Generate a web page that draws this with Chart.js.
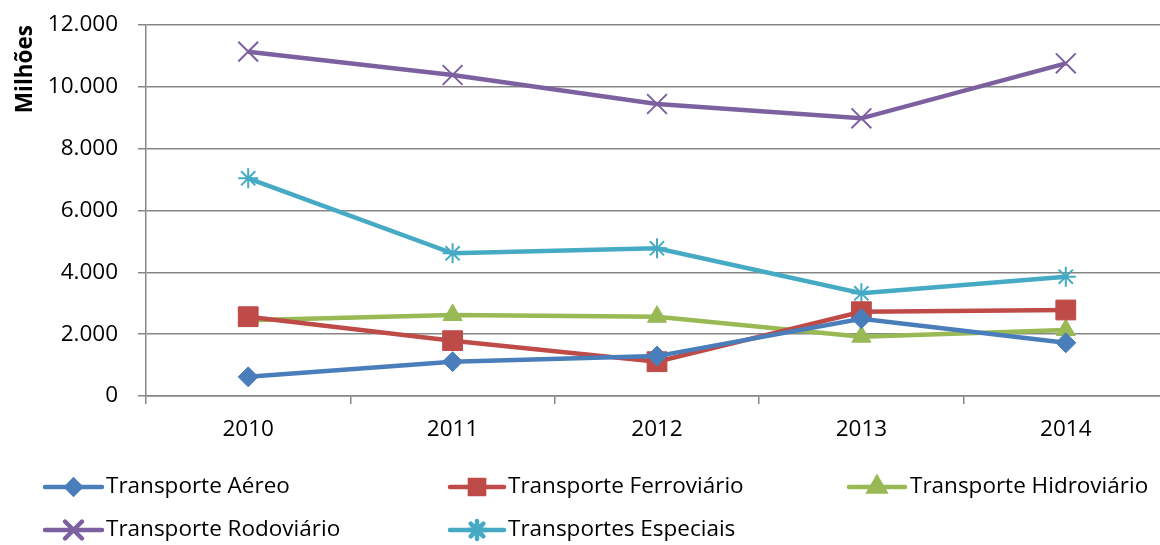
<!DOCTYPE html>
<html><head><meta charset="utf-8">
<script src="https://cdn.jsdelivr.net/npm/chart.js@4/dist/chart.umd.min.js"></script>
<style>
html,body{margin:0;padding:0;background:#fff;overflow:hidden}
#wrap{width:1160px;height:545px;overflow:hidden;position:relative}
canvas{display:block}
</style></head>
<body><div id="wrap"><canvas id="c" width="1184" height="545" style="width:1184px;height:545px"></canvas></div>
<script>
const categories = ['2010','2011','2012','2013','2014'];
const seriesNames = ['Transporte Aéreo','Transporte Ferroviário','Transporte Hidroviário','Transporte Rodoviário','Transportes Especiais'];
const aereo       = [620, 1110, 1290, 2500, 1720];
const ferroviario = [2565, 1790, 1110, 2727, 2782];
const hidroviario = [2450, 2620, 2565, 1918, 2135];
const rodoviario  = [11137, 10383, 9445, 8982, 10761];
const especiais   = [7041, 4615, 4777, 3322, 3859];
const yTicks = [0, 2000, 4000, 6000, 8000, 10000, 12000];
const yTitle = 'Milhões';

const FONT = "'Open Sans', 'Noto Sans', sans-serif";
const FS = 22.5;
const grey = '#868686';
const colors = ['#4A7EBB','#BE4B48','#98B954','#7D60A0','#46AAC5'];
const styles = [
  {pointStyle:'rectRot', r:10, bw:1, lr:7},
  {pointStyle:'rect', r:14, bw:1, lr:10},
  {pointStyle:'triangle', r:11, bw:1, lr:9},
  {pointStyle:'crossRot', r:14, bw:2, lr:12},
  {pointStyle:'star', r:10, bw:2, lr:9}
];
const values = [aereo, ferroviario, hidroviario, rodoviario, especiais];

function fmt(v){ return String(v).replace(/\B(?=(\d{3})+(?!\d))/g,'.'); }

const datasets = values.map((d,i)=>({
  label: seriesNames[i],
  data: d,
  borderColor: colors[i],
  backgroundColor: colors[i],
  borderWidth: 4.5,
  pointStyle: styles[i].pointStyle,
  pointRadius: styles[i].r,
  pointHoverRadius: styles[i].r,
  pointBorderWidth: styles[i].bw,
  pointBackgroundColor: colors[i],
  pointBorderColor: colors[i],
  tension: 0,
  fill: false
}));

const legendPos = [
  {lx1:45, lx2:102, tx:106, y:487},
  {lx1:450, lx2:504, tx:508, y:487},
  {lx1:849, lx2:905, tx:910, y:487},
  {lx1:45, lx2:102, tx:106, y:530},
  {lx1:450, lx2:504, tx:508, y:530}
];

const legendPlugin = {
  id:'excelLegend',
  afterDraw(chart){
    const ctx = chart.ctx;
    ctx.save();
    chart.data.datasets.forEach((ds,i)=>{
      const p = legendPos[i];
      ctx.strokeStyle = ds.borderColor;
      ctx.lineWidth = 4.5;
      ctx.lineCap = 'round';
      ctx.beginPath(); ctx.moveTo(p.lx1,p.y); ctx.lineTo(p.lx2,p.y); ctx.stroke();
      Chart.helpers.drawPoint(ctx, {
        pointStyle: ds.pointStyle, radius: styles[i].lr, borderWidth: styles[i].bw, rotation:0
      }, (p.lx1+p.lx2)/2, p.y);
      ctx.fillStyle = ds.borderColor;
      ctx.lineWidth = styles[i].bw;
      ctx.fill(); ctx.stroke();
      ctx.fillStyle = '#000';
      ctx.font = FS + 'px ' + FONT;
      ctx.textBaseline = 'middle';
      ctx.textAlign = 'left';
      ctx.fillText(ds.label, p.tx, p.y);
    });
    ctx.restore();
  }
};

new Chart(document.getElementById('c'), {
  type:'line',
  data:{labels:categories, datasets},
  options:{
    responsive:false,
    animation:false,
    events:[],
    layout:{padding:{left:0, top:25, right:3, bottom:0}},
    plugins:{legend:{display:false}, tooltip:{enabled:false}},
    scales:{
      x:{
        offset:true,
        grid:{offset:true, drawOnChartArea:false, drawTicks:true, tickLength:8, color:grey, lineWidth:1.5},
        border:{display:true, color:grey, width:1.5},
        ticks:{color:'#000', font:{family:FONT, size:FS}, padding:12},
        afterFit(s){ s.height = 149; s.paddingLeft = 0; s.paddingRight = 0; }
      },
      y:{
        min:0, max:12000,
        afterBuildTicks(s){ s.ticks = yTicks.map(v=>({value:v})); },
        grid:{color:grey, lineWidth:1.5, tickLength:8},
        border:{display:true, color:grey, width:1.5},
        ticks:{color:'#000', font:{family:FONT, size:FS}, padding:20, callback:(v)=>fmt(v)},
        title:{display:true, text:yTitle, align:'end', color:'#000', font:{family:FONT, size:FS, weight:'bold'}, padding:{top:12,bottom:0}},
        afterFit(s){ s.width = 146; s.paddingTop = 0; s.paddingBottom = 0; }
      }
    }
  },
  plugins:[legendPlugin]
});
</script>
</body></html>
